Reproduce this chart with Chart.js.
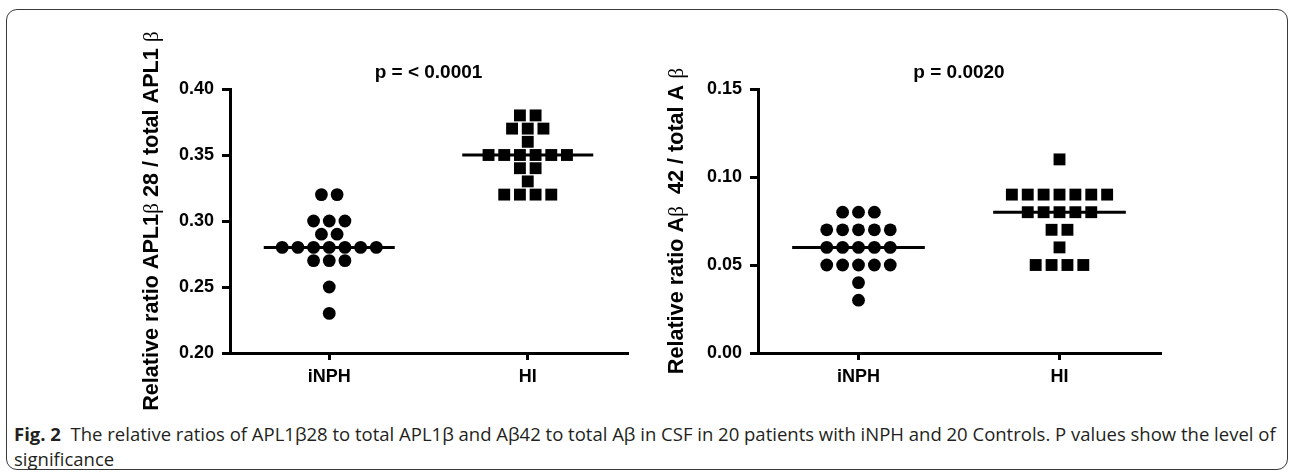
<!DOCTYPE html>
<html><head><meta charset="utf-8">
<script src="https://cdn.jsdelivr.net/npm/chart.js@4.4.1/dist/chart.umd.min.js"></script>
<style>
html,body{margin:0;padding:0;background:#fff;width:1290px;height:472px;overflow:hidden;position:relative;}
#frame{position:absolute;left:6px;top:9px;width:1282px;height:461px;border:1.3px solid #3a3a3a;border-radius:11px;box-sizing:border-box;}
#c1{position:absolute;left:0;top:0;}
#c2{position:absolute;left:640px;top:0;}
#cap{position:absolute;left:14px;top:421px;font-family:"Open Sans",sans-serif;color:#231f20;font-size:15px;line-height:25px;white-space:nowrap;}
#cap b{font-weight:700;}
</style></head>
<body>
<div id="frame"></div>
<canvas id="c1" width="640" height="420"></canvas>
<canvas id="c2" width="560" height="420"></canvas>
<div id="cap"><span id="l1"><b>Fig. 2</b>&nbsp; The relative ratios of APL1β28 to total APL1β and Aβ42 to total Aβ in CSF in 20 patients with iNPH and 20 Controls. P values show the level of</span><br>significance</div>
<script>
// ---- data ----
const categories = ['iNPH', 'HI'];
const aplINPH = [0.32,0.32,0.30,0.30,0.30,0.29,0.29,0.28,0.28,0.28,0.28,0.28,0.28,0.28,0.27,0.27,0.27,0.25,0.23];
const aplHI   = [0.38,0.38,0.37,0.37,0.37,0.36,0.35,0.35,0.35,0.35,0.35,0.35,0.34,0.34,0.33,0.32,0.32,0.32,0.32];
const abINPH  = [0.08,0.08,0.08,0.07,0.07,0.07,0.07,0.07,0.06,0.06,0.06,0.06,0.06,0.05,0.05,0.05,0.05,0.05,0.04,0.03];
const abHI    = [0.11,0.09,0.09,0.09,0.09,0.09,0.09,0.09,0.08,0.08,0.08,0.08,0.08,0.07,0.07,0.06,0.05,0.05,0.05,0.05];
const aplTicks = [0.20,0.25,0.30,0.35,0.40];
const abTicks  = [0.00,0.05,0.10,0.15];
const pLeft = 'p = < 0.0001';
const pRight = 'p = 0.0020';

// ---- layout helpers ----
const SLOT = 0.079;     // horizontal spacing of symbols, x-units
const MED_HALF = 0.33;  // half width of median line, x-units
function median(a){const s=[...a].sort((p,q)=>p-q);const n=s.length;return n%2?s[(n-1)/2]:(s[n/2-1]+s[n/2])/2;}
function swarm(values, center){
  const rows=new Map();
  values.forEach(v=>{const k=v.toFixed(4);if(!rows.has(k))rows.set(k,[]);rows.get(k).push(v);});
  const pts=[];
  rows.forEach(r=>r.forEach((v,i)=>pts.push({x:center+(i-(r.length-1)/2)*SLOT,y:v})));
  return pts;
}
const FAM='"Liberation Sans", Arial, sans-serif';
const PFONT='bold 19px '+FAM;
const TBOLD='bold 21.6px '+FAM;
const GREEK='21.6px "Liberation Serif", "Times New Roman", serif';

const decor={id:'decor',afterDraw(chart,args,o){
  const ctx=chart.ctx,a=chart.chartArea;
  ctx.save();
  ctx.fillStyle='#000';ctx.font=PFONT;ctx.textAlign='center';ctx.textBaseline='alphabetic';
  ctx.fillText(o.pText,(a.left+a.right)/2,o.pY);
  ctx.translate(o.titleX,(a.top+a.bottom)/2);ctx.rotate(-Math.PI/2);
  let total=0;o.segs.forEach(s=>{ctx.font=s[1];total+=ctx.measureText(s[0]).width;});
  let x=-total/2;ctx.textAlign='left';ctx.textBaseline='middle';
  o.segs.forEach(s=>{ctx.font=s[1];ctx.fillText(s[0],x,0);x+=ctx.measureText(s[0]).width;});
  ctx.restore();
}};

function makeChart(id, g1, g2, ticks, pText, segs, titleX, yWidth, padRight){
  const m1=median(g1), m2=median(g2);
  const lw=3;
  const tickFont={family:FAM,weight:'bold',size:18};
  return new Chart(document.getElementById(id),{
    type:'scatter',
    data:{datasets:[
      {data:swarm(g1,0.5),pointStyle:'circle',pointRadius:6.4,backgroundColor:'#000',borderWidth:0},
      {data:swarm(g2,1.5),pointStyle:'rect',pointRadius:8.4,backgroundColor:'#000',borderWidth:0},
      {data:[{x:0.5-MED_HALF,y:m1},{x:0.5+MED_HALF,y:m1}],showLine:true,borderColor:'#000',borderWidth:3,pointRadius:0},
      {data:[{x:1.5-MED_HALF,y:m2},{x:1.5+MED_HALF,y:m2}],showLine:true,borderColor:'#000',borderWidth:3,pointRadius:0}
    ]},
    options:{
      responsive:false,animation:false,events:[],
      layout:{padding:{left:0,right:padRight,top:89,bottom:27}},
      plugins:{legend:{display:false},tooltip:{enabled:false},
        decor:{pText:pText,pY:78,segs:segs,titleX:titleX}},
      scales:{
        x:{type:'linear',min:0,max:2,
          afterBuildTicks:s=>{s.ticks=categories.map((c,i)=>({value:i+0.5}));},
          afterFit:s=>{s.height=40;},
          ticks:{callback:(v,i)=>categories[i],font:tickFont,color:'#000',padding:6,maxRotation:0,autoSkip:false},
          grid:{drawOnChartArea:false,tickLength:7,color:'#000',lineWidth:lw},
          border:{color:'#000',width:lw}},
        y:{type:'linear',min:ticks[0],max:ticks[ticks.length-1],
          afterBuildTicks:s=>{s.ticks=ticks.map(v=>({value:v}));},
          afterFit:s=>{s.width=yWidth;},
          ticks:{callback:v=>v.toFixed(2),font:tickFont,color:'#000',padding:8},
          grid:{drawOnChartArea:false,tickLength:8,color:'#000',lineWidth:lw},
          border:{color:'#000',width:lw}}
      }
    },
    plugins:[decor]
  });
}

makeChart('c1',aplINPH,aplHI,aplTicks,pLeft,
  [['Relative ratio APL1',TBOLD],['β',GREEK],[' 28 / total APL1 ',TBOLD],['β',GREEK]],152,230,13);
makeChart('c2',abINPH,abHI,abTicks,pRight,
  [['Relative ratio A',TBOLD],['β',GREEK],['  42 / total A ',TBOLD],['β',GREEK]],677-640,118,40);

// fit caption first line to the frame width
const l1=document.getElementById('l1');const cap=document.getElementById('cap');
const w=l1.getBoundingClientRect().width;
cap.style.fontSize=(15*1262/w).toFixed(2)+'px';
</script>
</body></html>
